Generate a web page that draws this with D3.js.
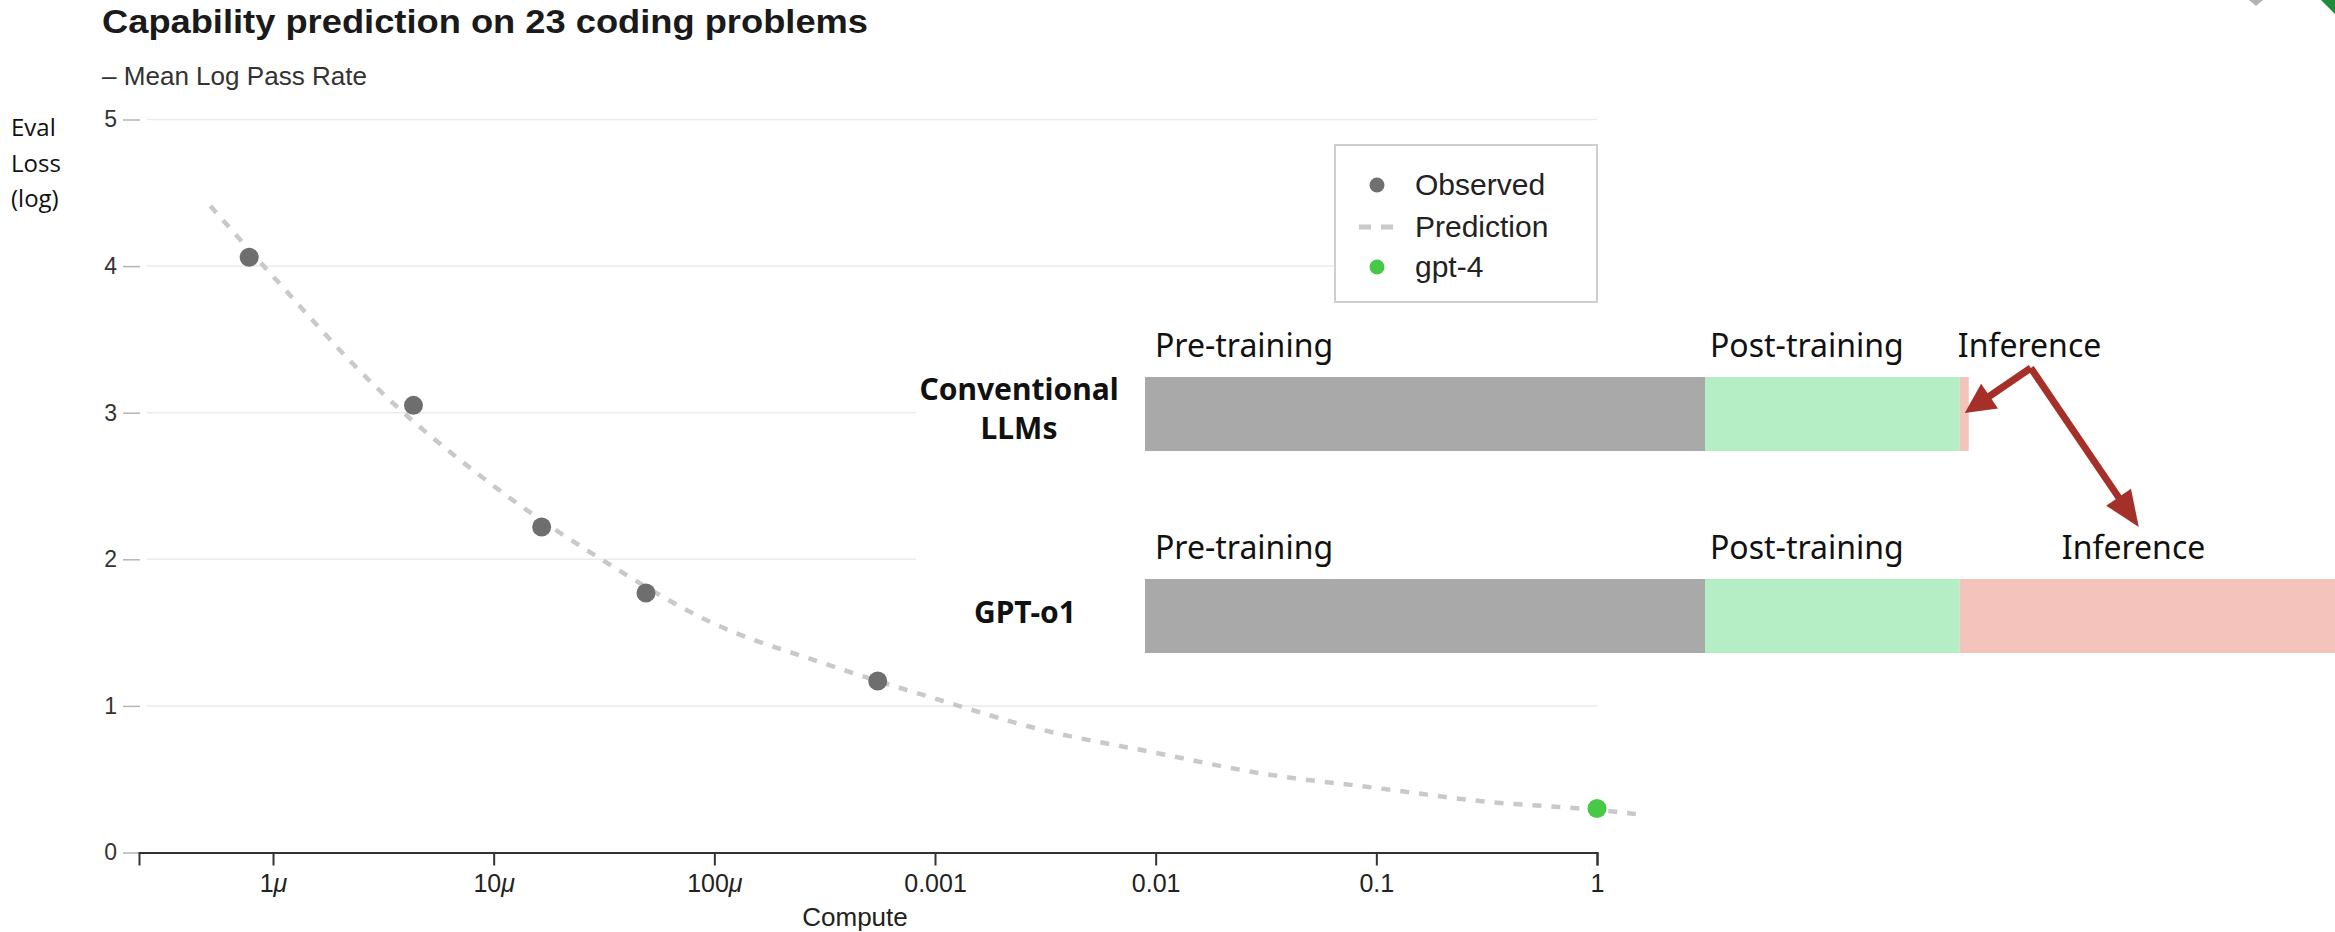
<!DOCTYPE html>
<html><head><meta charset="utf-8">
<script src="https://cdn.jsdelivr.net/npm/d3@7"></script>
<style>
html,body{margin:0;padding:0;background:#fff;}
svg{display:block;}
</style></head>
<body>
<svg id="chart" width="2335" height="932"></svg>
<script>
// ---------- data ----------
const titleText = "Capability prediction on 23 coding problems";
const subtitleText = "– Mean Log Pass Rate";
const yLabelLines = ["Eval", "Loss", "(log)"];
const xLabelText = "Compute";

const xTickValues = [1e-6, 1e-5, 1e-4, 1e-3, 1e-2, 1e-1, 1];
const xTickLabels = ["1μ", "10μ", "100μ", "0.001", "0.01", "0.1", "1"];
const yTickValues = [0, 1, 2, 3, 4, 5];
const xDomain = [2.47e-7, 1];
const yDomain = [0, 5];

const observedCompute = [7.8e-7, 4.33e-6, 1.65e-5, 4.9e-5, 5.5e-4];
const observedLoss    = [4.06, 3.05, 2.22, 1.77, 1.17];

const predictionCompute = [5.2e-7, 1e-6, 3e-6, 1e-5, 3e-5, 1e-4, 3e-4, 1e-3, 3e-3, 1e-2, 3e-2, 1e-1, 0.3, 1, 1.5];
const predictionLoss    = [4.41, 3.93, 3.16, 2.50, 2.01, 1.56, 1.30, 1.05, 0.84, 0.68, 0.54, 0.44, 0.35, 0.29, 0.263];

const gpt4Compute = [1];
const gpt4Loss    = [0.30];

const legendLabels = ["Observed", "Prediction", "gpt-4"];

const rowNames = [["Conventional", "LLMs"], ["GPT-o1"]];
const phaseNames = ["Pre-training", "Post-training", "Inference"];
const conventionalShare = [100, 45.5, 1.6];
const o1Share = [100, 45.5, 67];

// ---------- setup ----------
const svg = d3.select("#chart");
const chartFont = "'Liberation Sans', Arial, Helvetica, sans-serif";
const slideFont = "'Noto Sans', 'Open Sans', sans-serif";

const x = d3.scaleLog().domain(xDomain).range([139, 1597]);
const y = d3.scaleLinear().domain(yDomain).range([852.5, 119.5]);

// title & subtitle
svg.append("text").attr("x", 102).attr("y", 33)
  .attr("font-family", chartFont).attr("font-weight", "bold").attr("font-size", 33)
  .attr("fill", "#1a1a1a").attr("textLength", 766).attr("lengthAdjust", "spacingAndGlyphs")
  .text(titleText);
svg.append("text").attr("x", 102).attr("y", 85)
  .attr("font-family", chartFont).attr("font-size", 25).attr("fill", "#333")
  .attr("textLength", 265).attr("lengthAdjust", "spacingAndGlyphs")
  .text(subtitleText);

// y label (slide text)
svg.append("g").selectAll("text").data(yLabelLines).join("text")
  .attr("x", 11).attr("y", (d, i) => 136 + i * 35.5)
  .attr("font-family", "'Open Sans', sans-serif").attr("font-size", 24).attr("fill", "#111")
  .text(d => d);

// gridlines
svg.append("g").selectAll("line").data(yTickValues.filter(v => v > 0)).join("line")
  .attr("x1", 147).attr("x2", 1597)
  .attr("y1", d => y(d)).attr("y2", d => y(d))
  .attr("stroke", "#ebebeb").attr("stroke-width", 1.5);

// y axis
const yAxis = svg.append("g").attr("transform", "translate(140,0)")
  .call(d3.axisLeft(y).tickValues(yTickValues).tickSize(17).tickPadding(6).tickFormat(d3.format("d")));
yAxis.select(".domain").remove();
yAxis.selectAll(".tick line").attr("stroke", "#b5b5b5").attr("stroke-width", 1.5);
yAxis.selectAll(".tick text").attr("font-family", chartFont).attr("font-size", 23).attr("fill", "#333");

// x axis
const xAxis = svg.append("g").attr("transform", `translate(0,${y(0)})`)
  .call(d3.axisBottom(x).tickValues(xTickValues).tickSize(13).tickSizeOuter(13).tickPadding(9)
    .tickFormat((d, i) => xTickLabels[i]));
xAxis.select(".domain").attr("stroke", "#333").attr("stroke-width", 2);
xAxis.selectAll(".tick line").attr("stroke", "#333").attr("stroke-width", 2);
xAxis.selectAll(".tick text").attr("font-family", chartFont).attr("font-size", 25).attr("fill", "#222")
  .each(function(d, i) {
    const lab = xTickLabels[i];
    const t = d3.select(this);
    if (lab.endsWith("μ")) {
      t.text(lab.slice(0, -1));
      t.append("tspan").attr("font-style", "italic").text("μ");
    }
  });

svg.append("text").attr("x", 855).attr("y", 926).attr("text-anchor", "middle")
  .attr("font-family", chartFont).attr("font-size", 26).attr("fill", "#222")
  .text(xLabelText);

// prediction line
const predData = predictionCompute.map((c, i) => [c, predictionLoss[i]]);
svg.append("path").datum(predData)
  .attr("d", d3.line().x(d => x(d[0])).y(d => y(d[1])).curve(d3.curveMonotoneX))
  .attr("fill", "none").attr("stroke", "#c9c9c9").attr("stroke-width", 4.5)
  .attr("stroke-dasharray", "9,10");

// observed points
svg.append("g").selectAll("circle").data(observedCompute.map((c, i) => [c, observedLoss[i]])).join("circle")
  .attr("cx", d => x(d[0])).attr("cy", d => y(d[1])).attr("r", 9.5).attr("fill", "#6e6e6e");
// gpt-4
svg.append("g").selectAll("circle").data(gpt4Compute.map((c, i) => [c, gpt4Loss[i]])).join("circle")
  .attr("cx", d => x(d[0])).attr("cy", d => y(d[1])).attr("r", 9.5).attr("fill", "#46c946");

// legend
const lg = svg.append("g");
lg.append("rect").attr("x", 1335).attr("y", 145).attr("width", 262).attr("height", 157)
  .attr("fill", "#fff").attr("stroke", "#cfcfcf").attr("stroke-width", 2);
const rowY = [185, 227, 267];
lg.append("circle").attr("cx", 1377).attr("cy", rowY[0]).attr("r", 7.5).attr("fill", "#707070");
lg.append("line").attr("x1", 1359).attr("x2", 1394).attr("y1", rowY[1]).attr("y2", rowY[1])
  .attr("stroke", "#c9c9c9").attr("stroke-width", 5).attr("stroke-dasharray", "12,10");
lg.append("circle").attr("cx", 1377).attr("cy", rowY[2]).attr("r", 7.5).attr("fill", "#46c946");
lg.selectAll("text").data(legendLabels).join("text")
  .attr("x", 1415).attr("y", (d, i) => rowY[i] + 10)
  .attr("font-family", chartFont).attr("font-size", 30).attr("fill", "#222")
  .text(d => d);

// ---------- slide overlay ----------
svg.append("rect").attr("x", 916).attr("y", 318).attr("width", 1419).attr("height", 368).attr("fill", "#fff");

const xb = d3.scaleLinear().domain([0, d3.sum(o1Share)]).range([1145, 2335]);
const phaseColors = ["#a9a9a9", "#b5edc5", "#f4c3bc"];
const barTops = [377, 579];
const barH = 74;
const labelOffsets = [[10, 5, -2], [10, 5, 102]];
const rowLabelDy = [[23, 62], [44]];

[conventionalShare, o1Share].forEach((shares, r) => {
  const starts = d3.cumsum([0, ...shares]);
  const g = svg.append("g");
  g.selectAll("rect").data(shares).join("rect")
    .attr("x", (d, i) => xb(starts[i]))
    .attr("width", (d, i) => xb(starts[i] + d) - xb(starts[i]))
    .attr("y", barTops[r]).attr("height", barH)
    .attr("fill", (d, i) => phaseColors[i]);
  g.selectAll("text.phase").data(phaseNames).join("text").attr("class", "phase")
    .attr("x", (d, i) => xb(starts[i]) + labelOffsets[r][i])
    .attr("y", barTops[r] - 20)
    .attr("font-family", slideFont).attr("font-size", 32).attr("fill", "#111")
    .text(d => d);
  g.selectAll("text.row").data(rowNames[r]).join("text").attr("class", "row")
    .attr("x", r === 0 ? 1019 : 1025).attr("y", (d, i) => barTops[r] + rowLabelDy[r][i])
    .attr("text-anchor", "middle")
    .attr("font-family", slideFont).attr("font-weight", "bold").attr("font-size", 30).attr("fill", "#111")
    .text(d => d);
});

// arrows
function arrow(x1, y1, x2, y2, headLen, headW, shaftW, color) {
  const dx = x2 - x1, dy = y2 - y1, L = Math.hypot(dx, dy);
  const ux = dx / L, uy = dy / L, px = -uy, py = ux;
  const bx = x2 - ux * headLen, by = y2 - uy * headLen;
  svg.append("line").attr("x1", x1).attr("y1", y1).attr("x2", bx + ux * 2).attr("y2", by + uy * 2)
    .attr("stroke", color).attr("stroke-width", shaftW);
  svg.append("polygon")
    .attr("points", [[x2, y2], [bx + px * headW / 2, by + py * headW / 2], [bx - px * headW / 2, by - py * headW / 2]].map(p => p.join(",")).join(" "))
    .attr("fill", color);
}
const convStarts = d3.cumsum([0, ...conventionalShare]);
const o1Starts = d3.cumsum([0, ...o1Share]);
const ox = xb(convStarts[2]) + labelOffsets[0][2] + 73, oy = barTops[0] - 20 + 11;
arrow(ox, oy, xb(convStarts[3]) - 4, barTops[0] + 36, 30, 30, 7, "#a5302a");
arrow(ox, oy, xb(o1Starts[2]) + labelOffsets[1][2] + 77, barTops[1] - 52, 36, 30, 7, "#a5302a");

// corner artifacts
svg.append("polygon").attr("points", "2249,0 2263,0 2256,6").attr("fill", "#b3b3b3");
svg.append("polygon").attr("points", "2321,0 2335,0 2335,14").attr("fill", "#1e8c3a");
</script>
</body></html>
